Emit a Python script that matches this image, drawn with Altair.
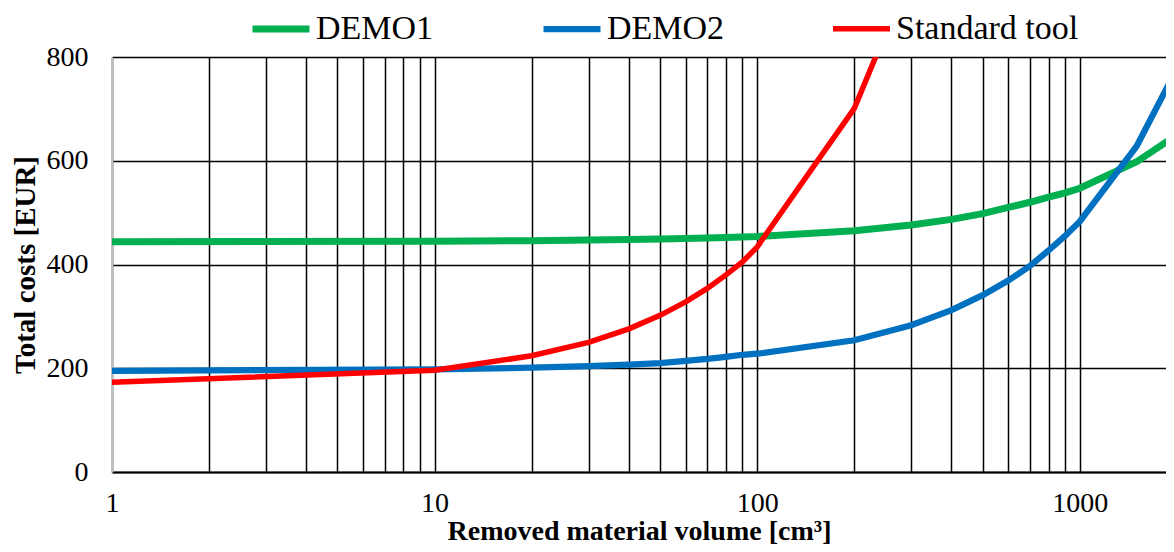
import altair as alt
import pandas as pd

series = ["DEMO1", "DEMO2", "Standard tool"]
colors = ["#00B050", "#0070C0", "#FF0000"]
widths = [7, 5.5, 6]

volume = [1, 10, 20, 30, 40, 50, 60, 70, 80, 90, 100, 200, 300, 400, 500, 600, 700, 800, 900, 1000, 1500, 2000]
demo1 = [444, 445, 446, 447, 448, 449, 450, 451, 452, 453, 454, 465, 476, 487, 498, 510, 520, 530, 538, 547, 598, 650]
demo2 = [195, 198, 201, 204, 207, 210, 214, 218, 222, 226, 228, 254, 283, 312, 341, 369, 397, 427, 455, 483, 628, 778]
std_volume = [1, 10, 20, 30, 40, 50, 60, 70, 80, 90, 100, 200, 300]
std_tool = [173, 196, 224, 250, 276, 302, 328, 354, 380, 405, 434, 701, 965]

grid_x = [1, 2, 3, 4, 5, 6, 7, 8, 9, 10, 20, 30, 40, 50, 60, 70, 80, 90,
          100, 200, 300, 400, 500, 600, 700, 800, 900, 1000]
y_ticks = [0, 200, 400, 600, 800]

rows = []
for v, c in zip(volume, demo1):
    rows.append({"volume": v, "cost": c, "series": "DEMO1"})
for v, c in zip(volume, demo2):
    rows.append({"volume": v, "cost": c, "series": "DEMO2"})
for v, c in zip(std_volume, std_tool):
    rows.append({"volume": v, "cost": c, "series": "Standard tool"})
df = pd.DataFrame(rows)

FONT = "Liberation Serif"

chart = alt.Chart(df).mark_line(clip=True).encode(
    x=alt.X("volume:Q",
            scale=alt.Scale(type="log", domain=[1, 1850], nice=False),
            axis=alt.Axis(values=grid_x, format="d",
                          labelExpr="indexof(['1','10','100','1000'], datum.label) >= 0 ? datum.label : ''",
                          title="Removed material volume [cm³]",
                          grid=True, gridColor="black", gridWidth=1.5, gridOpacity=1,
                          ticks=False, tickSize=0, labelPadding=17,
                          labelFont=FONT, labelFontSize=28, labelColor="black",
                          titleFont=FONT, titleFontSize=28, titleFontWeight="bold", titleColor="black",
                          titlePadding=0,
                          domainColor="black", domainWidth=2, labelFlush=False, labelOverlap=False)),
    y=alt.Y("cost:Q",
            scale=alt.Scale(domain=[0, 800], nice=False),
            axis=alt.Axis(values=y_ticks, title="Total costs [EUR]",
                          grid=True, gridColor="black", gridWidth=1.5, gridOpacity=1,
                          ticks=False, tickSize=0, labelPadding=24,
                          labelFont=FONT, labelFontSize=28, labelColor="black",
                          titleFont=FONT, titleFontSize=29, titleFontWeight="bold", titleColor="black",
                          titlePadding=6,
                          domainColor="#bfbfbf", domainWidth=2)),
    color=alt.Color("series:N",
                    scale=alt.Scale(domain=series, range=colors),
                    legend=alt.Legend(title=None, orient="none", direction="horizontal",
                                      legendX=137, legendY=-60, padding=0,
                                      symbolType="stroke", symbolSize=3249, symbolStrokeWidth=7,
                                      labelFont=FONT, labelFontSize=34, labelColor="black",
                                      labelOffset=3, columnPadding=97, labelLimit=400)),
    strokeWidth=alt.StrokeWidth("series:N", scale=alt.Scale(domain=series, range=widths), legend=None),
).properties(
    width=1054, height=415,
    autosize=alt.AutoSizeParams(type="none"),
    padding={"left": 104, "top": 49, "right": 0, "bottom": 72},
).configure_view(strokeWidth=0)

chart.save("out.html", embed_options={"renderer": "svg", "actions": False})
